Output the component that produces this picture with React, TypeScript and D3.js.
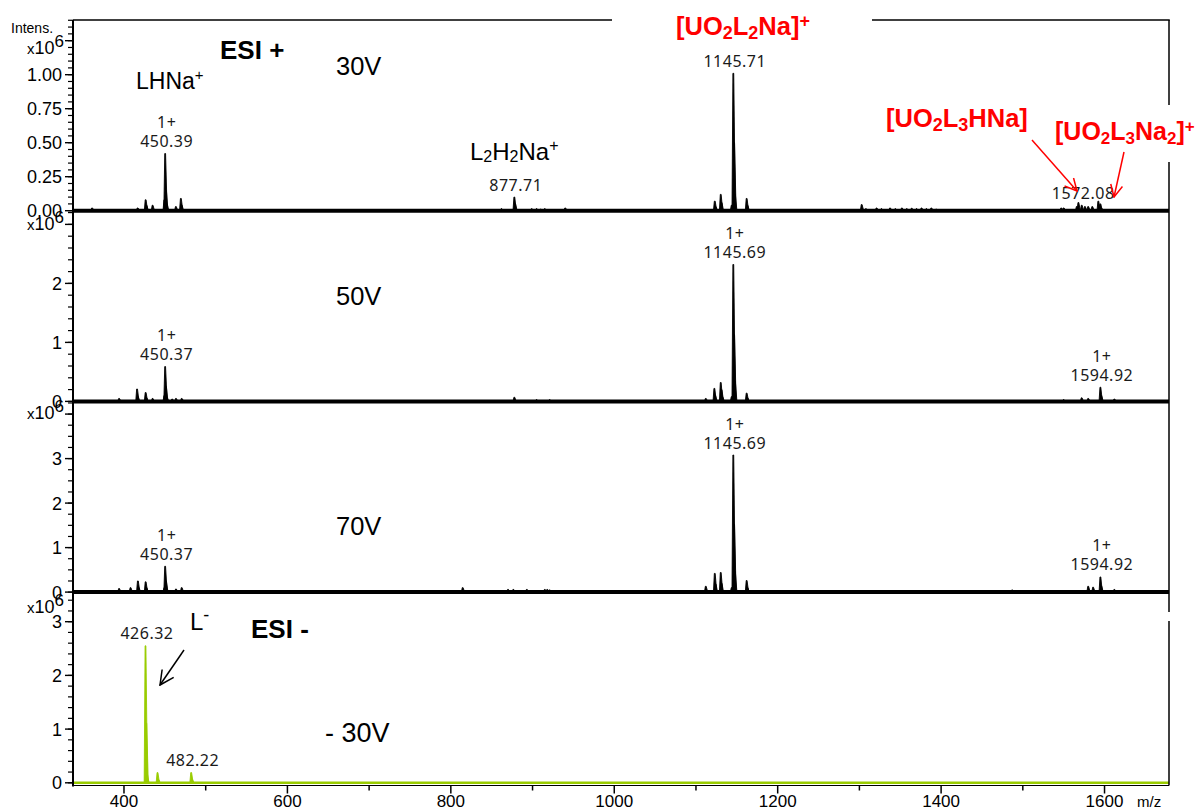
import React from 'react';
import * as d3 from 'd3';

type Peak = [number, number];

// ---------- data ----------
const MZ_RANGE: [number, number] = [337.6, 1678.9];
const MZ_MAJOR_TICKS = [400, 600, 800, 1000, 1200, 1400, 1600];
const MZ_MINOR_TICKS = [500, 700, 900, 1100, 1300, 1500];

const PANEL_NAMES = ['30V', '50V', '70V', '- 30V'];
const Y_MAX = [1.402, 3.232, 4.285, 3.551];
const Y_MAJOR_STEP = [0.25, 1, 1, 1];
const Y_MINOR_STEP = [0.05, 0.2, 0.25, 0.2];
const Y_LABEL_MAX = [1.0, 2, 3, 3];
const Y_LABEL_DIGITS = [2, 0, 0, 0];
const EXPONENT_AT = [1.19, 3.0, 4.0, 3.26];

// intensities in units of 10^6
const peaks30V: Peak[] = [
  [361, 0.02], [416.7, 0.02], [426.5, 0.08], [427.5, 0.04], [435, 0.04],
  [449.4, 0.08], [450.39, 0.42], [451.4, 0.15], [452.4, 0.05], [463.5, 0.03],
  [469.6, 0.09], [470.6, 0.04],
  [862, 0.015], [877.71, 0.1], [878.7, 0.05], [899, 0.015], [905, 0.015], [910, 0.012],
  [915, 0.015], [940, 0.02],
  [1123, 0.07], [1124, 0.03], [1130.3, 0.12], [1131.3, 0.06], [1143.7, 0.04],
  [1145.71, 1.01], [1146.7, 0.5], [1147.7, 0.12], [1162, 0.09], [1163, 0.04],
  [1302.8, 0.045], [1308, 0.015], [1321, 0.02], [1327, 0.015], [1337.5, 0.02], [1344, 0.015],
  [1352, 0.02], [1358, 0.015], [1364, 0.018], [1370, 0.015], [1376, 0.02], [1382, 0.015],
  [1388, 0.02], [1394, 0.012],
  [1547, 0.02], [1550, 0.02], [1566, 0.03], [1568, 0.06], [1572.08, 0.04], [1576, 0.03],
  [1580, 0.03], [1585, 0.03], [1592.4, 0.07], [1594.9, 0.05], [1596, 0.02],
];

const peaks50V: Peak[] = [
  [394, 0.05], [416, 0.21], [417, 0.08], [426.5, 0.15], [427.5, 0.06], [435, 0.05],
  [449.4, 0.1], [450.37, 0.59], [451.4, 0.25], [452.4, 0.07], [459, 0.04], [463.6, 0.05],
  [470.6, 0.05], [471.6, 0.03],
  [877.7, 0.07], [905, 0.03], [921, 0.03],
  [1112, 0.05], [1122.5, 0.22], [1123.5, 0.1], [1130.3, 0.32], [1131.3, 0.2], [1132.3, 0.08],
  [1143.7, 0.08], [1145.69, 2.32], [1146.7, 1.13], [1147.7, 0.34], [1162, 0.14], [1163, 0.06],
  [1550, 0.03], [1572, 0.06], [1580, 0.05], [1594.92, 0.24], [1596, 0.1], [1612, 0.04],
];

const peaks70V: Peak[] = [
  [394, 0.08], [408, 0.1], [417, 0.25], [418, 0.1], [426.5, 0.23], [427.5, 0.1], [435, 0.03],
  [449.4, 0.1], [450.37, 0.58], [451.4, 0.25], [452.4, 0.06], [463.6, 0.07], [470.6, 0.1],
  [471.6, 0.04],
  [814.5, 0.1], [870, 0.06], [876.5, 0.06], [893, 0.06], [915, 0.06], [918, 0.06], [921, 0.05],
  [1112, 0.13], [1123, 0.42], [1124, 0.18], [1130.3, 0.44], [1131.3, 0.2], [1143.7, 0.1],
  [1145.69, 3.08], [1146.7, 1.52], [1147.7, 0.46], [1162, 0.26], [1163, 0.1],
  [1487, 0.05], [1580, 0.13], [1586, 0.11], [1594.92, 0.34], [1596, 0.14], [1612, 0.06],
];

const peaksNeg30V: Peak[] = [
  [426.32, 2.55], [427.3, 1.11], [428.3, 0.15], [441, 0.19], [442, 0.06],
  [482.22, 0.19], [483.2, 0.07],
];

const PANEL_PEAKS = [peaks30V, peaks50V, peaks70V, peaksNeg30V];
const PANEL_COLORS = ['#000000', '#000000', '#000000', '#99cc00'];

const PEAK_LABEL_PANEL = [0, 0, 0, 0, 1, 1, 1, 2, 2, 2, 3, 3];
const PEAK_LABEL_MZ = [450.39, 877.71, 1145.71, 1572.08, 450.37, 1145.69, 1594.92, 450.37, 1145.69, 1594.92, 426.32, 482.22];
const PEAK_LABEL_CHARGE = ['1+', '', '', '', '1+', '1+', '1+', '1+', '1+', '1+', '', ''];

// ---------- layout ----------
const W = 1200;
const H = 811;
const LEFT = 73;
const RIGHT = 1169;
const TOP = 20;
const PANEL_H = 190.7;
const AXIS_Y = 785.5;

const SANS = 'Liberation Sans, Arial, Helvetica, sans-serif';
const LABEL_FONT = 'Noto Sans, Open Sans, DejaVu Sans, sans-serif';
const RED = '#ff0000';

const x = d3.scaleLinear().domain(MZ_RANGE).range([LEFT, RIGHT]);

function baselineOf(i: number) {
  return TOP + (i + 1) * PANEL_H;
}
function yScaleOf(i: number) {
  const b = baselineOf(i);
  return d3.scaleLinear().domain([0, Y_MAX[i]]).range([b, b - PANEL_H]);
}

function peakPath(p: Peak, y: d3.ScaleLinear<number, number>) {
  const [m, h] = p;
  const pts: [number, number][] = [
    [m - 1.6, 0],
    [m - 0.5, h],
    [m + 0.5, h],
    [m + 2.4, 0],
  ];
  const line = d3
    .line<[number, number]>()
    .x((d) => x(d[0]))
    .y((d) => y(d[1]));
  return line(pts) + 'Z';
}

function range(step: number, max: number) {
  const out: number[] = [];
  for (let k = 0; k * step <= max + 1e-9; k++) out.push(+(k * step).toFixed(4));
  return out;
}

export default function App() {
  return (
    <svg
      width={W}
      height={H}
      viewBox={`0 0 ${W} ${H}`}
      style={{ position: 'absolute', left: 0, top: 0, background: '#fff' }}
    >
      <defs>
        <marker id="arrRed" viewBox="0 0 14 14" refX="13" refY="7" markerWidth="14" markerHeight="14" markerUnits="userSpaceOnUse" orient="auto">
          <path d="M1,1 L13,7 L1,13" fill="none" stroke={RED} strokeWidth={1.5} />
        </marker>
        <marker id="arrBlack" viewBox="0 0 16 16" refX="15" refY="8" markerWidth="16" markerHeight="16" markerUnits="userSpaceOnUse" orient="auto">
          <path d="M1,1 L15,8 L1,15" fill="none" stroke="#000" strokeWidth={1.5} />
        </marker>
      </defs>
      <rect x={0} y={0} width={W} height={H} fill="#fff" />

      {/* spectra */}
      {PANEL_PEAKS.map((peaks, i) => {
        const y = yScaleOf(i);
        const b = baselineOf(i);
        const c = PANEL_COLORS[i];
        return (
          <g key={'sp' + i}>
            {peaks.map((p, j) => (
              <path key={j} d={peakPath(p, y)} fill={c} stroke={c} strokeWidth={0.9} strokeLinejoin="round" />
            ))}
            <line x1={LEFT} x2={RIGHT} y1={b} y2={b} stroke={c} strokeWidth={i === 3 ? 2.5 : 4} />
          </g>
        );
      })}

      {/* bottom axis */}
      <line x1={LEFT} x2={RIGHT} y1={AXIS_Y} y2={AXIS_Y} stroke="#000" strokeWidth={1.2} />
      {MZ_MAJOR_TICKS.map((t) => (
        <g key={'xm' + t}>
          <line x1={x(t)} x2={x(t)} y1={AXIS_Y} y2={AXIS_Y + 8} stroke="#000" strokeWidth={1.5} />
          <text x={x(t)} y={807} textAnchor="middle" fontFamily={SANS} fontSize={17} fill="#000">
            {t}
          </text>
        </g>
      ))}
      {MZ_MINOR_TICKS.map((t) => (
        <line key={'xn' + t} x1={x(t)} x2={x(t)} y1={AXIS_Y} y2={AXIS_Y + 5} stroke="#000" strokeWidth={1.5} />
      ))}
      <text x={1137} y={807} fontFamily={SANS} fontSize={15} fill="#000">m/z</text>

      {/* left axis */}
      <line x1={LEFT} x2={LEFT} y1={TOP} y2={AXIS_Y + 1} stroke="#000" strokeWidth={2} />
      {PANEL_NAMES.map((_, i) => {
        const y = yScaleOf(i);
        const minors = range(Y_MINOR_STEP[i], Y_MAX[i]);
        const majors = range(Y_MAJOR_STEP[i], Y_MAX[i]);
        return (
          <g key={'ya' + i}>
            {minors.map((v) => (
              <line key={'n' + v} x1={LEFT - 5} x2={LEFT} y1={y(v)} y2={y(v)} stroke="#000" strokeWidth={1.2} />
            ))}
            {majors.map((v) => (
              <line key={'m' + v} x1={LEFT - 8} x2={LEFT} y1={y(v)} y2={y(v)} stroke="#000" strokeWidth={1.4} />
            ))}
            {majors
              .filter((v) => v <= Y_LABEL_MAX[i] + 1e-9)
              .map((v) => (
                <text key={'l' + v} x={62} y={y(v)} dy="0.36em" textAnchor="end" fontFamily={SANS} fontSize={18} fill="#000">
                  {v.toFixed(Y_LABEL_DIGITS[i])}
                </text>
              ))}
            <text x={64} y={y(EXPONENT_AT[i])} dy="0.36em" textAnchor="end" fontFamily={SANS} fontSize={15} fill="#000">
              x<tspan fontSize={18}>10</tspan><tspan dy="-7" fontSize={17}>6</tspan>
            </text>
          </g>
        );
      })}
      <text x={11} y={33} fontFamily={SANS} fontSize={14} fill="#000">Intens.</text>

      {/* frame */}
      <line x1={LEFT} x2={612} y1={TOP} y2={TOP} stroke="#000" strokeWidth={1.5} />
      <line x1={872} x2={RIGHT + 0.75} y1={TOP} y2={TOP} stroke="#000" strokeWidth={1.5} />
      <line x1={RIGHT} x2={RIGHT} y1={TOP} y2={105} stroke="#000" strokeWidth={1.5} />
      <line x1={RIGHT} x2={RIGHT} y1={162} y2={612} stroke="#000" strokeWidth={1.5} />
      <line x1={RIGHT} x2={RIGHT} y1={621} y2={AXIS_Y} stroke="#000" strokeWidth={1.5} />

      {/* peak labels */}
      {PEAK_LABEL_MZ.map((mz, k) => {
        const i = PEAK_LABEL_PANEL[k];
        const y = yScaleOf(i);
        const pk = PANEL_PEAKS[i].reduce((a, b) => (Math.abs(b[0] - mz) < Math.abs(a[0] - mz) ? b : a));
        const top = y(pk[1]);
        const cx = x(mz) + 1.5;
        return (
          <g key={'pl' + k} fontFamily={LABEL_FONT} fontSize={16} fill="#1a1a1a" textAnchor="middle" letterSpacing={0.5}>
            {PEAK_LABEL_CHARGE[k] && (
              <text x={cx} y={top - 25.5}>{PEAK_LABEL_CHARGE[k]}</text>
            )}
            <text x={cx} y={top - 6.5}>{mz.toFixed(2)}</text>
          </g>
        );
      })}

      {/* panel names */}
      <text x={336} y={75} fontFamily={SANS} fontSize={25.5} fill="#000">{PANEL_NAMES[0]}</text>
      <text x={336} y={305} fontFamily={SANS} fontSize={25.5} fill="#000">{PANEL_NAMES[1]}</text>
      <text x={336} y={535} fontFamily={SANS} fontSize={25.5} fill="#000">{PANEL_NAMES[2]}</text>
      <text x={325} y={741.5} fontFamily={SANS} fontSize={27} fill="#000">{PANEL_NAMES[3]}</text>

      {/* annotations */}
      <text x={220} y={59} fontFamily={SANS} fontSize={26} fontWeight="bold" fill="#000">ESI +</text>
      <text x={251} y={638} fontFamily={SANS} fontSize={26} fontWeight="bold" fill="#000">ESI -</text>

      <text x={136} y={89} fontFamily={SANS} fontSize={23} fill="#000">
        LHNa<tspan fontSize={15} dy={-9}>+</tspan>
      </text>
      <text x={470} y={160} fontFamily={SANS} fontSize={24} fill="#000">
        L<tspan fontSize={16} dy={2}>2</tspan>
        <tspan dy={-2}>H</tspan>
        <tspan fontSize={16} dy={2}>2</tspan>
        <tspan dy={-2}>Na</tspan>
        <tspan fontSize={16} dy={-9}>+</tspan>
      </text>
      <text x={190} y={630} fontFamily={SANS} fontSize={24} fill="#000">
        L<tspan fontSize={18} dy={-9}>-</tspan>
      </text>
      <line x1={184} y1={650} x2={160} y2={685} stroke="#000" strokeWidth={1.5} markerEnd="url(#arrBlack)" />

      <g fontFamily={SANS} fontWeight="bold" fill={RED}>
        <text x={676} y={34.5} fontSize={25.5}>
          [UO<tspan fontSize={18} dy={4}>2</tspan>
          <tspan dy={-4}>L</tspan>
          <tspan fontSize={18} dy={4}>2</tspan>
          <tspan dy={-4}>Na]</tspan>
          <tspan fontSize={18} dy={-8}>+</tspan>
        </text>
        <text x={886} y={126.7} fontSize={25.5}>
          [UO<tspan fontSize={18} dy={4}>2</tspan>
          <tspan dy={-4}>L</tspan>
          <tspan fontSize={18} dy={4}>3</tspan>
          <tspan dy={-4}>HNa]</tspan>
        </text>
        <text x={1055} y={140} fontSize={25}>
          [UO<tspan fontSize={17} dy={4}>2</tspan>
          <tspan dy={-4}>L</tspan>
          <tspan fontSize={17} dy={4}>3</tspan>
          <tspan dy={-4}>Na</tspan>
          <tspan fontSize={17} dy={4}>2</tspan>
          <tspan dy={-4}>]</tspan>
          <tspan fontSize={17} dy={-8}>+</tspan>
        </text>
      </g>
      <line x1={1032} y1={140} x2={1077} y2={191} stroke={RED} strokeWidth={1.5} markerEnd="url(#arrRed)" />
      <line x1={1124} y1={152} x2={1114} y2={197} stroke={RED} strokeWidth={1.5} markerEnd="url(#arrRed)" />
    </svg>
  );
}
